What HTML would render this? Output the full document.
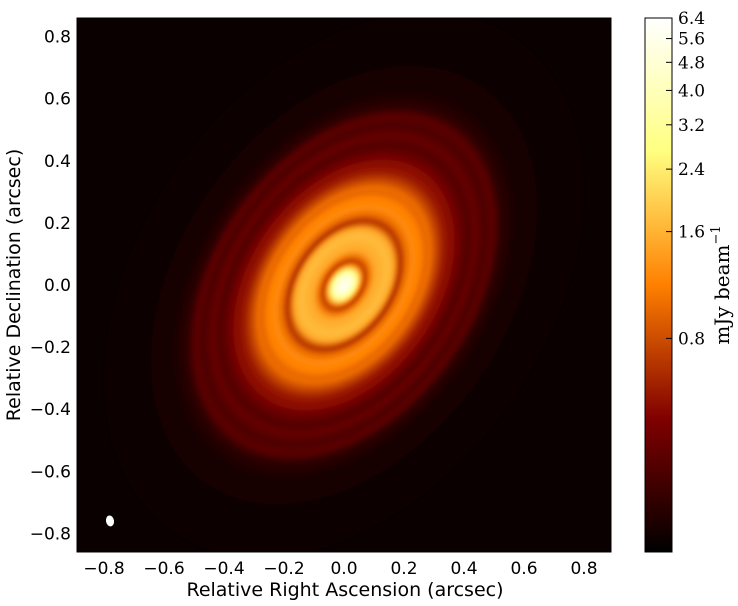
<!DOCTYPE html>
<html><head><meta charset="utf-8"><style>
html,body{margin:0;background:#fff;width:738px;height:606px;overflow:hidden}
svg{display:block}
text{font-family:"DejaVu Sans","Liberation Sans",sans-serif;fill:#000}
</style></head><body>
<svg id="chart" width="738" height="606">
<defs>
<radialGradient id="diskGrad" cx="0" cy="0" r="300" gradientUnits="userSpaceOnUse"></radialGradient>
<linearGradient id="cbGrad" x1="0" y1="1" x2="0" y2="0"></linearGradient>
<filter id="soft" x="-20%" y="-20%" width="140%" height="140%"><feGaussianBlur stdDeviation="2.5"/></filter>
<clipPath id="plotClip"><rect x="77" y="18" width="534" height="534"/></clipPath>
</defs>
<g id="plot"></g>
<g id="cbar"></g>
</svg>
<script>
const xTicks=[-0.8,-0.6,-0.4,-0.2,0.0,0.2,0.4,0.6,0.8];
const yTicks=[-0.8,-0.6,-0.4,-0.2,0.0,0.2,0.4,0.6,0.8];
const cbTicks=[0.8,1.6,2.4,3.2,4.0,4.8,5.6,6.4];
const profileRadius=[0,9,16,22,26,31,38,54,62,67,71,77,85,96,102,107,116,125,134,146,155,164,175,186,196,212,250,300];
const profileLevel=[0.97,0.92,0.75,0.5,0.35,0.47,0.58,0.62,0.58,0.42,0.34,0.46,0.52,0.5,0.45,0.47,0.38,0.3,0.27,0.2,0.16,0.2,0.15,0.18,0.09,0.05,0.03,0.02];
const beam={x:-0.78,y:-0.76};
const NS="http://www.w3.org/2000/svg";
const L=77,T=18,W=534,H=534,xlim=0.89,ylim=0.86;
const xs=v=>L+(v+xlim)/(2*xlim)*W;
const ys=v=>T+(ylim-v)/(2*ylim)*H;
const cbTop=18,cbBot=552,cbMin=0.2,cbMax=6.4;
const cy=v=>cbBot-(Math.log(v)-Math.log(cbMin))/(Math.log(cbMax)-Math.log(cbMin))*(cbBot-cbTop);
function afm(t){const c=x=>Math.round(255*Math.max(0,Math.min(1,x)));return `rgb(${c(2*t)},${c(2*t-0.5)},${c(2*t-1)})`;}
function mk(tag,attrs,parent){const e=document.createElementNS(NS,tag);for(const k in attrs)e.setAttribute(k,attrs[k]);parent.appendChild(e);return e;}
const plot=document.getElementById('plot'),cbar=document.getElementById('cbar');
const dg=document.getElementById('diskGrad');
profileRadius.forEach((r,i)=>{mk('stop',{offset:r/300,'stop-color':afm(profileLevel[i])},dg);});
const bg=mk('rect',{x:L,y:T,width:W,height:H,fill:'#0a0000'},plot);


const g=mk('g',{'clip-path':'url(#plotClip)'},plot);
const disk=mk('ellipse',{cx:0,cy:0,rx:300,ry:300,fill:'url(#diskGrad)',filter:'url(#soft)',transform:`translate(${xs(0)},${ys(0)}) rotate(-55) scale(1,0.68)`},g);


const bm=mk('ellipse',{cx:xs(beam.x),cy:ys(beam.y),rx:4,ry:5.5,fill:'#fff',transform:`rotate(-10 ${xs(beam.x)} ${ys(beam.y)})`},plot);


const fr=mk('rect',{x:L,y:T,width:W,height:H,fill:'none',stroke:'#000','stroke-width':1},plot);


const fmt=v=>(v<0?'\u2212':'')+Math.abs(v).toFixed(1);
xTicks.forEach(v=>{const t=mk('text',{x:xs(v),y:574,'font-size':17,'text-anchor':'middle'},plot);t.textContent=fmt(v);

});
yTicks.forEach(v=>{const t=mk('text',{x:71,y:ys(v)+6,'font-size':17,'text-anchor':'end'},plot);t.textContent=fmt(v);

});
const xl=mk('text',{x:345,y:596,'font-size':19,'text-anchor':'middle'},plot);xl.textContent='Relative Right Ascension (arcsec)';


const yl=mk('text',{x:0,y:0,'font-size':19,'text-anchor':'middle',transform:'translate(20,285) rotate(-90)'},plot);yl.textContent='Relative Declination (arcsec)';


const cg=document.getElementById('cbGrad');
for(let i=0;i<=20;i++){mk('stop',{offset:i/20,'stop-color':afm(i/20)},cg);}
const cb=mk('rect',{x:645,y:cbTop,width:27,height:cbBot-cbTop,fill:'url(#cbGrad)',stroke:'#000','stroke-width':1},cbar);


cbTicks.forEach(v=>{const y=cy(v);mk('line',{x1:666,x2:672,y1:y,y2:y,stroke:'#000'},cbar);
const t=mk('text',{x:678,y:y+6,'font-size':17,style:'font-family:"DejaVu Serif","Liberation Serif",serif'},cbar);t.textContent=v.toFixed(1);

});
const cl=mk('text',{x:0,y:0,'font-size':20,'text-anchor':'middle',transform:'translate(729,285) rotate(-90)',style:'font-family:"DejaVu Serif","Liberation Serif",serif'},cbar);
cl.innerHTML='mJy beam<tspan dy="-9" font-size="13">\u22121</tspan>';


</script>
</body></html>
